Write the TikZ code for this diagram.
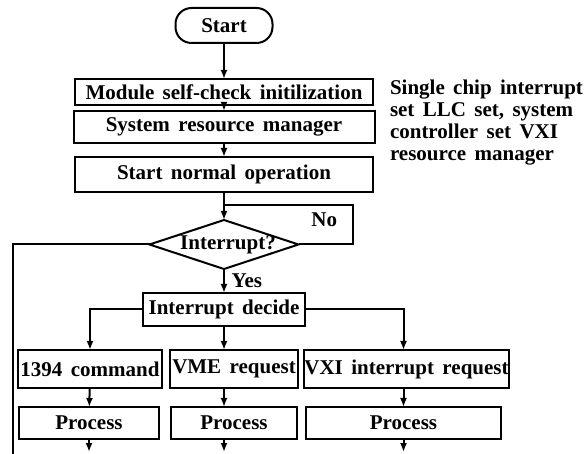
\documentclass[tikz,border=0pt]{standalone}
\usepackage{fontspec}
\setmainfont{Liberation Serif}
\usetikzlibrary{arrows.meta,positioning,shapes.geometric}

\begin{document}
\begin{tikzpicture}[node distance=0.8cm,line width=1pt]
    \tikzstyle{stepbox}=[draw,inner sep=0pt,outer sep=0pt,font={\bfseries\fontsize{10.5}{11}\selectfont\spaceskip=0.4em\relax}]
    \tikzstyle{term}=[stepbox,rounded corners=8pt,minimum width=48.5pt,minimum height=17.5pt]
    \tikzstyle{decision}=[draw,diamond,inner sep=0pt,outer sep=0pt,minimum width=74.5pt,minimum height=24.5pt]
    \tikzstyle{lbl}=[font={\bfseries\fontsize{10.5}{11}\selectfont}]
    \tikzstyle{note}=[inner sep=0pt,align=left,font={\bfseries\fontsize{10.5}{11}\selectfont\spaceskip=0.4em\relax}]
    \tikzstyle{flow}=[-{Latex[length=4.5pt,width=3.5pt]}]
    \useasboundingbox (0,0) rectangle (292pt,-227pt);
    % main column
    \node[term] (start) at (112pt,-12.75pt) {Start};
    \node[stepbox,minimum width=149pt,minimum height=13pt,below=18pt of start] (init) {Module self-check initilization};
    \node[stepbox,minimum width=150.5pt,minimum height=16pt,below=3pt of init] (srm) {System resource manager};
    \node[stepbox,minimum width=149pt,minimum height=17.5pt,below=7pt of srm] (normal) {Start normal operation};
    \node[decision,below=14pt of normal,label={[lbl,xshift=2pt]center:Interrupt?}] (irq) {};
    \node[stepbox,minimum width=81pt,minimum height=16.5pt,below=12pt of irq] (decide) {Interrupt decide};
    \node[note,right=8pt of init.north east,anchor=north west] (remark) {Single chip interrupt\\set LLC set, system\\controller set VXI\\resource manager};
    % request types
    \node[stepbox,minimum width=64pt,minimum height=19pt,below=12pt of decide,xshift=5pt] (vme) {VME request};
    \node[stepbox,minimum width=72pt,minimum height=19pt,left=4pt of vme] (cmd) {1394 command};
    \node[stepbox,minimum width=102.5pt,minimum height=19pt,right=3pt of vme] (vxi) {VXI interrupt request};
    \node[stepbox,minimum width=63pt,minimum height=16pt,below=9.5pt of vme] (procb) {Process};
    \node[stepbox,minimum width=70pt,minimum height=16pt,left=6pt of procb] (proca) {Process};
    \node[stepbox,minimum width=97.5pt,minimum height=16pt,right=4.5pt of procb] (procc) {Process};
    % arrows
    \draw[flow] (start) -- (init);
    \draw[flow] (init) -- (srm);
    \draw[flow] (srm) -- (normal);
    \draw[flow] (normal) -- (irq);
    \coordinate[below=6.5pt of normal.south] (back);
    \draw (irq.east) -- ++(27pt,0) |- node[lbl,pos=0.61,below] (no) {No} (back);
    \draw[flow] (irq) -- node[lbl,right] (yes) {Yes} (decide);
    \coordinate (leftend) at (6.5pt,-227pt);
    \draw (irq.west) -| (leftend);
    \draw[flow] (decide.west) -| (cmd.north);
    \draw[flow] (decide) -- (decide |- vme.north);
    \draw[flow] (decide.east) -| (procc |- vxi.north);
    \draw[flow] (cmd) -- (proca);
    \draw[flow] (decide |- vme.south) -- (decide |- procb.north);
    \draw[flow] (procc |- vxi.south) -- (procc);
    \foreach \p in {proca.south,decide |- procb.south,procc.south}
        \draw[flow] (\p) -- ++(0,-6.5pt);
\end{tikzpicture}
\end{document}
